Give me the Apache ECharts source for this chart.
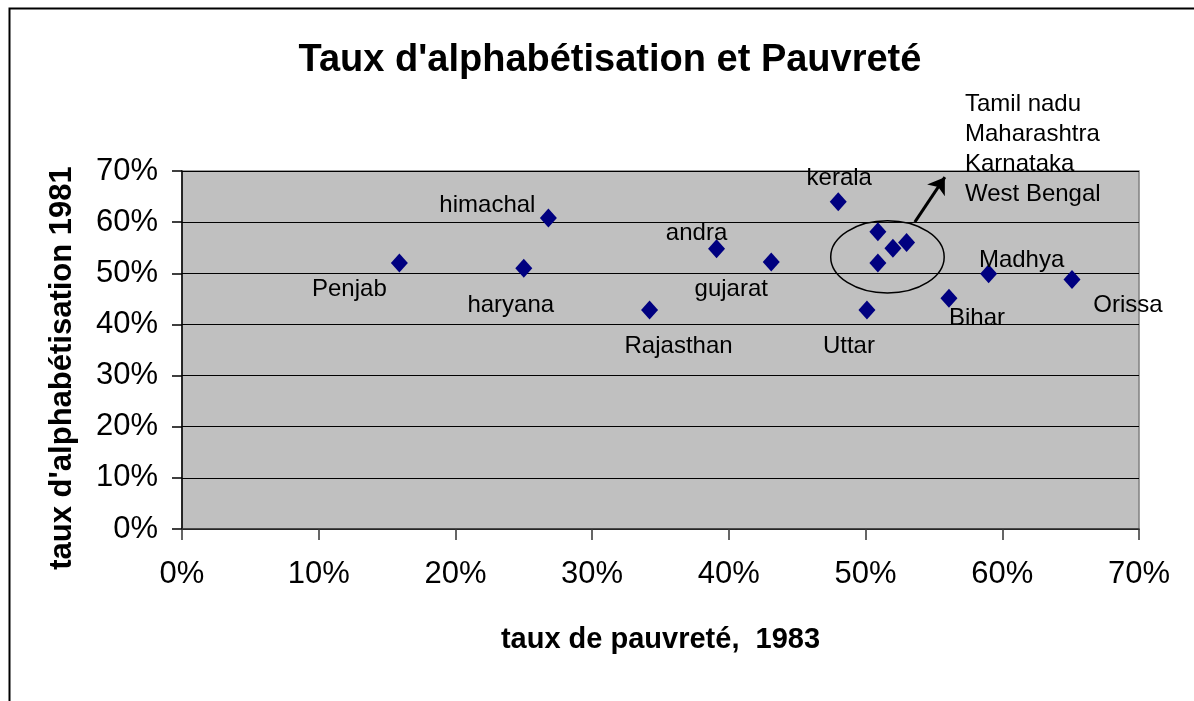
<!DOCTYPE html>
<html>
<head>
<meta charset="utf-8">
<script src="https://cdn.jsdelivr.net/npm/echarts@6/dist/echarts.min.js"></script>
<style>
html,body{margin:0;padding:0;background:#fff;}
#chart{width:1194px;height:701px;}
</style>
</head>
<body>
<div id="chart"></div>
<script>
// ---- data ----
var states   = ['Penjab','haryana','himachal','Rajasthan','andra','gujarat','kerala','Uttar','Tamil nadu','Maharashtra','Karnataka','West Bengal','Bihar','Madhya','Orissa'];
var poverty  = [15.9, 25.0, 26.8, 34.2, 39.1, 43.1, 48.0, 50.1, 50.9, 50.9, 52.0, 53.0, 56.1, 59.0, 65.1];
var literacy = [52.0, 51.0, 60.8, 42.8, 54.8, 52.2, 64.0, 42.8, 58.1, 52.0, 54.9, 56.0, 45.1, 49.9, 48.8];
var showName = [true, true, true, true, true, true, true, true, false, false, false, false, true, true, true];
var clusterNote = ['Tamil nadu','Maharashtra','Karnataka','West Bengal'];
var xTicks = [0,10,20,30,40,50,60,70];
var yTicks = [0,10,20,30,40,50,60,70];
// annotation (data units): ellipse [cx, cy, rx, ry], arrow [from, to]
var clusterEllipse = [[51.6, 53.2, 4.15, 7.05]];
var arrowCoords = [[53.6, 60.0], [55.8, 68.8]];

// label offsets (pixels, style only)
var labelOffset = {
  'Penjab':[-50,26], 'haryana':[-13,37], 'himachal':[-61,-13], 'Rajasthan':[29,36],
  'andra':[-20,-15], 'gujarat':[-40,27], 'kerala':[1,-23], 'Uttar':[-18,36],
  'Bihar':[28,20], 'Madhya':[33,-13], 'Orissa':[56,26]
};

var FONT = '"Liberation Sans", Arial, sans-serif';
var chart = echarts.init(document.getElementById('chart'));

var points = states.map(function(n, i){
  var item = { name: n, value: [poverty[i], literacy[i]] };
  if (showName[i]) {
    item.label = { show: true, position: 'inside', offset: labelOffset[n] || [0,0], formatter: n,
                   color: '#000', opacity: 1, fontFamily: FONT, fontSize: 24 };
  }
  return item;
});

var option = {
  backgroundColor: '#ffffff',
  animation: false,
  title: {
    text: "Taux d'alphabétisation et Pauvreté",
    left: 605, top: 37, textAlign: 'center',
    textStyle: { fontFamily: FONT, fontSize: 38, fontWeight: 'bold', color: '#000' }
  },
  grid: {
    left: 182, top: 171, right: 55, bottom: 172,
    show: true, backgroundColor: '#c0c0c0', borderColor: '#808080', borderWidth: 1.5
  },
  xAxis: {
    type: 'value', min: xTicks[0], max: xTicks[xTicks.length-1], interval: 10,
    name: 'taux de pauvreté,  1983', nameLocation: 'middle', nameGap: 96,
    nameTextStyle: { fontFamily: FONT, fontSize: 29, fontWeight: 'bold', color: '#000' },
    axisLine: { show: true, lineStyle: { color: '#333', width: 1.5 } },
    axisTick: { show: true, inside: false, length: 11, lineStyle: { color: '#333', width: 1.5 } },
    axisLabel: { formatter: '{value}%', margin: 30, fontFamily: FONT, fontSize: 31, color: '#000' },
    splitLine: { show: false }
  },
  yAxis: {
    type: 'value', min: yTicks[0], max: yTicks[yTicks.length-1], interval: 10,
    name: "taux d'alphabétisation 1981", nameLocation: 'middle', nameGap: 104, nameRotate: 90,
    nameTextStyle: { fontFamily: FONT, fontSize: 31, fontWeight: 'bold', color: '#000', padding: [0, 36, 0, 0] },
    axisLine: { show: true, lineStyle: { color: '#000', width: 1.5 } },
    axisTick: { show: true, inside: false, length: 10, lineStyle: { color: '#000', width: 1.5 } },
    axisLabel: { formatter: '{value}%', margin: 24, fontFamily: FONT, fontSize: 31, color: '#000' },
    splitLine: { show: true, lineStyle: { color: '#000', width: 1.2 } }
  },
  series: [
    {
      type: 'scatter',
      symbol: 'diamond', symbolSize: [17, 19],
      itemStyle: { color: '#000080', opacity: 1 },
      label: { fontFamily: FONT, fontSize: 24, color: '#000', opacity: 1 },
      emphasis: { disabled: true },
      data: points,
      z: 5
    },
    {
      type: 'custom',
      coordinateSystem: 'cartesian2d',
      data: clusterEllipse,
      renderItem: function(params, api){
        var c = api.coord([api.value(0), api.value(1)]);
        var s = api.size([api.value(2), api.value(3)]);
        return {
          type: 'ellipse',
          shape: { cx: c[0], cy: c[1], rx: s[0], ry: s[1] },
          style: { fill: 'none', stroke: '#000', lineWidth: 1.5 }
        };
      },
      z: 4
    },
    {
      type: 'lines',
      coordinateSystem: 'cartesian2d',
      symbol: ['none', 'arrow'], symbolSize: 16,
      lineStyle: { color: '#000', width: 3, opacity: 1 },
      data: [{ coords: arrowCoords }],
      z: 4
    }
  ],
  graphic: [
    {
      type: 'rect', left: 7, top: 6, silent: true, z: -1,
      shape: { width: 1300, height: 800 },
      style: { fill: 'none', stroke: '#000', lineWidth: 2 }
    },
    {
      type: 'text', left: 965, top: 89,
      style: { text: clusterNote.join('\n'), fontFamily: FONT, fontSize: 24, lineHeight: 30, fill: '#000' }
    }
  ]
};
chart.setOption(option);
</script>
</body>
</html>
